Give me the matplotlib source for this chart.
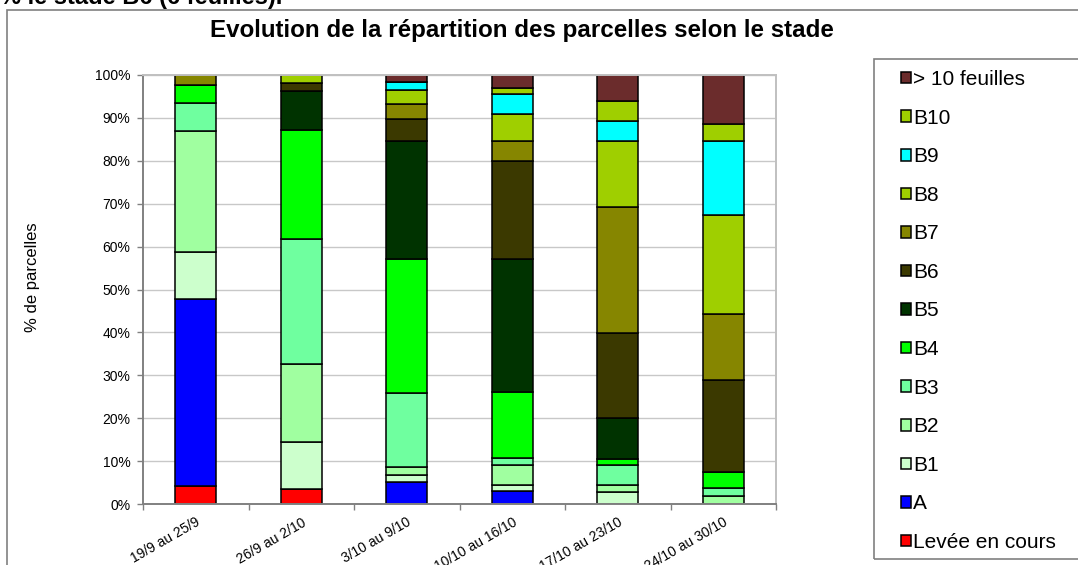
import numpy as np
import matplotlib
matplotlib.use("Agg")
import matplotlib.pyplot as plt
from matplotlib.patches import Rectangle

plt.rcParams["font.family"] = ["Liberation Sans", "DejaVu Sans"]

periods = ["19/9 au 25/9", "26/9 au 2/10", "3/10 au 9/10",
           "10/10 au 16/10", "17/10 au 23/10", "24/10 au 30/10"]

stades = ["Levée en cours", "A", "B1", "B2", "B3", "B4", "B5",
          "B6", "B7", "B8", "B9", "B10", "> 10 feuilles"]

couleurs = ["#ff0000", "#0000ff", "#ccffcc", "#a0ffa0", "#6fff9f", "#00ff00",
            "#003300", "#3b3900", "#868600", "#9fcf00", "#00ffff", "#9fcf00",
            "#6b2c2c"]

# % de parcelles par stade (une liste par stade, une valeur par période)
levee = [4.3, 3.6, 0, 0, 0, 0]
a = [43.4, 0, 5.1, 3.1, 0, 0]
b1 = [11.0, 10.9, 1.7, 1.4, 2.9, 0]
b2 = [28.3, 18.2, 1.8, 4.6, 1.6, 2.0]
b3 = [6.5, 29.1, 17.2, 1.6, 4.6, 1.8]
b4 = [4.2, 25.3, 31.2, 15.4, 1.5, 3.8]
b5 = [0, 9.2, 27.5, 30.9, 9.4, 0]
b6 = [0, 1.8, 5.1, 22.8, 19.9, 21.3]
b7 = [2.3, 0, 3.5, 4.7, 29.2, 15.3]
b8 = [0, 1.9, 3.4, 6.3, 15.4, 23.1]
b9 = [0, 0, 1.7, 4.6, 4.8, 17.2]
b10 = [0, 0, 0, 1.4, 4.5, 4.0]
plus10 = [0, 0, 1.8, 3.2, 6.2, 11.5]

series = [levee, a, b1, b2, b3, b4, b5, b6, b7, b8, b9, b10, plus10]

W, H = 1078, 565
fig = plt.figure(figsize=(W / 100, H / 100), dpi=100)

# cadre du graphique (déborde à droite et en bas)
fig.patches.append(Rectangle((7 / W, -0.1), 1.2, 1 - 9.5 / H + 0.1, transform=fig.transFigure,
                             fill=False, edgecolor="#808080", lw=1.2))
# titre coupé en haut de l'image
fig.text(0 / W, 1 - 4 / H, "% le stade B6 (6 feuilles).", fontsize=17, fontweight="bold",
         ha="left", va="baseline")

ax = fig.add_axes([143 / W, 1 - 504.3 / H, (776 - 143) / W, (504.3 - 74.7) / H])

x = np.arange(len(periods))
bottom = np.zeros(len(periods))
handles = []
for name, vals, col in zip(stades, series, couleurs):
    vals = np.array(vals)
    h = ax.bar(x, vals, 0.39, bottom=bottom, color=col, edgecolor="black", lw=1.1, label=name)
    handles.append(h)
    bottom += vals

ax.set_xlim(-0.5, len(periods) - 0.5)
ax.set_ylim(0, 100)
ax.set_yticks(np.arange(0, 101, 10))
ax.set_yticklabels([f"{v}%" for v in range(0, 101, 10)], fontsize=10)
ax.set_xticks(x)
ax.set_xticklabels(periods, fontsize=10, rotation=30, ha="right", va="top", rotation_mode="anchor")
ax.set_xticks(np.arange(-0.5, len(periods)), minor=True)
ax.tick_params(axis="x", which="major", length=0, pad=8)
ax.tick_params(axis="x", which="minor", length=4, color="#808080", width=1)
ax.tick_params(axis="y", length=4, color="#808080", width=1, pad=5)

ax.yaxis.grid(True, color="#c8c8c8", lw=1)
ax.set_axisbelow(True)
for s in ["left", "bottom"]:
    ax.spines[s].set_color("#808080")
    ax.spines[s].set_linewidth(1.4)
for s in ["top", "right"]:
    ax.spines[s].set_color("#c0c0c0")
    ax.spines[s].set_linewidth(1.4)

fig.text(522 / W, 1 - 30 / H, "Evolution de la répartition des parcelles selon le stade",
         fontsize=17.4, fontweight="bold", ha="center", va="center")
fig.text(33 / W, 1 - 277 / H, "% de parcelles", fontsize=12, rotation=90, ha="center", va="center")

# légende
fig.patches.append(Rectangle((874 / W, 1 - 559 / H), 0.3, (559 - 59) / H, transform=fig.transFigure,
                             fill=False, edgecolor="#808080", lw=1.2))
fig.legend(handles[::-1], stades[::-1], loc="upper left",
           bbox_to_anchor=(901 / W, 1 - 70 / H), frameon=False, fontsize=15,
           handlelength=0.48, handleheight=0.48, handletextpad=0.1,
           labelspacing=0.94, borderpad=0, borderaxespad=0)

fig.savefig("out.png", dpi=100)
